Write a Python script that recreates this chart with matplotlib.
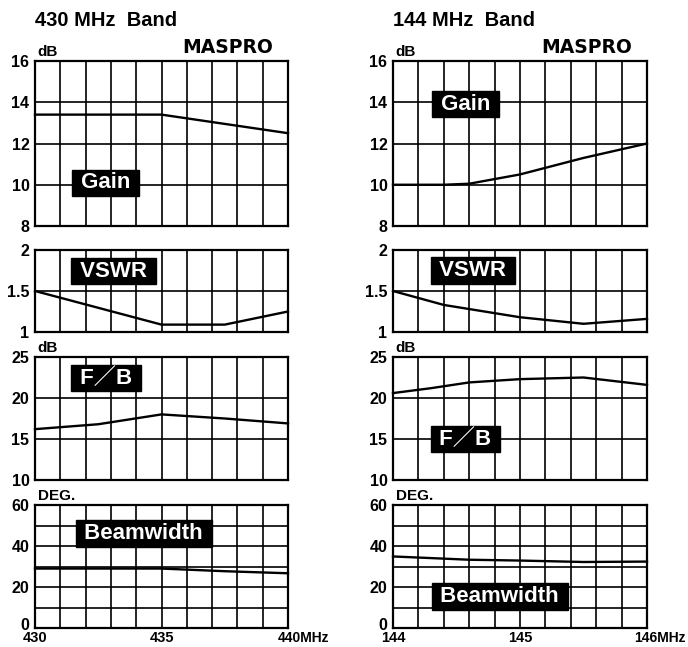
import matplotlib
matplotlib.use("Agg")
import matplotlib.pyplot as plt
import matplotlib.transforms as mtransforms
import numpy as np

# ---------------- data ----------------
# 430 MHz band
gain430_f = [430, 435, 440]
gain430 = [13.4, 13.4, 12.5]
vswr430_f = [430, 435, 437.5, 440]
vswr430 = [1.5, 1.09, 1.09, 1.25]
fb430_f = [430, 432.5, 435, 437.5, 440]
fb430 = [16.2, 16.8, 18.0, 17.5, 16.9]
bw430_f = [430, 435, 437.5, 440]
bw430 = [29.0, 29.0, 27.7, 26.7]

# 144 MHz band
gain144_f = [144, 144.4, 144.6, 145, 145.5, 146]
gain144 = [10.0, 10.0, 10.05, 10.5, 11.3, 12.0]
vswr144_f = [144, 144.4, 145, 145.5, 146]
vswr144 = [1.5, 1.33, 1.18, 1.1, 1.16]
fb144_f = [144, 144.3, 144.6, 145, 145.5, 146]
fb144 = [20.6, 21.2, 21.9, 22.3, 22.5, 21.6]
bw144_f = [144, 144.6, 145, 145.5, 146]
bw144 = [34.9, 33.3, 32.9, 32.2, 32.4]

titles = ["430 MHz  Band", "144 MHz  Band"]
xticks_430 = [430, 435, 440]
xticklabels_430 = ["430", "435", "440MHz"]
xticks_144 = [144, 145, 146]
xticklabels_144 = ["144", "145", "146MHz"]

panel_names = [" Gain ", " VSWR ", " F\uff0fB ", " Beamwidth "]
ylims = [(8, 16), (1, 2), (10, 25), (0, 60)]
ytick_vals = [[8, 10, 12, 14, 16], [1, 1.5, 2], [10, 15, 20, 25], [0, 20, 40, 60]]
ytick_labels = [["8", "10", "12", "14", "16"], ["1", "1.5", "2"],
                ["10", "15", "20", "25"], ["0", "20", "40", "60"]]
hgrid = [[10, 12, 14], [1.5], [15, 20], [10, 20, 30, 40, 50]]
units = ["dB", "", "dB", "DEG."]

# label box centers (data coordinates) for each column
box_430 = [(432.8, 10.1), (433.1, 1.74), (432.8, 22.4), (434.3, 46.1)]
box_144 = [(144.57, 13.9), (144.63, 1.75), (144.57, 15.0), (144.84, 15.4)]

# ---------------- figure ----------------
W, H = 688, 647
fig = plt.figure(figsize=(W / 100, H / 100), dpi=100)
fig.patch.set_facecolor("white")

TICKFONT = ["Liberation Sans Narrow", "Liberation Sans", "DejaVu Sans"]
BOXFONT = ["Liberation Sans", "Noto Sans CJK JP", "DejaVu Sans"]

col_left_px = [35, 393]
col_width_px = [253, 254]
rows_px = [(61, 226), (250, 332), (357, 480), (505, 628)]

series = [
    [(gain430_f, gain430), (vswr430_f, vswr430), (fb430_f, fb430), (bw430_f, bw430)],
    [(gain144_f, gain144), (vswr144_f, vswr144), (fb144_f, fb144), (bw144_f, bw144)],
]
xranges = [(430, 440), (144, 146)]
vgrids = [np.arange(431, 440, 1), np.arange(144.2, 145.9, 0.2)]
boxes = [box_430, box_144]
xt = [(xticks_430, xticklabels_430), (xticks_144, xticklabels_144)]
mhz_offset = [-10, -13]

for c in range(2):
    for r in range(4):
        top, bot = rows_px[r]
        ax = fig.add_axes([col_left_px[c] / W, (H - bot) / H,
                           col_width_px[c] / W, (bot - top) / H])
        ax.set_xlim(*xranges[c])
        ax.set_ylim(*ylims[r])
        for v in vgrids[c]:
            ax.axvline(v, color="black", lw=1.2, zorder=1)
        for h in hgrid[r]:
            ax.axhline(h, color="black", lw=1.2, zorder=1)
        xs, ys = series[c][r]
        ax.plot(xs, ys, color="black", lw=1.7, zorder=3, clip_on=False,
                solid_joinstyle="round")
        for s in ax.spines.values():
            s.set_linewidth(1.6)
            s.set_color("black")
        ax.set_yticks(ytick_vals[r])
        ax.set_yticklabels(ytick_labels[r], family=TICKFONT,
                           fontweight="bold", fontsize=11.5)
        ax.tick_params(axis="y", length=0, pad=4)
        if r == 3:
            # lift the "0" label slightly so it clears the frequency labels
            lbl0 = ax.get_yticklabels()[0]
            lbl0.set_transform(lbl0.get_transform() + mtransforms.ScaledTranslation(
                0, 4 / 100, fig.dpi_scale_trans))
            ticks, labels = xt[c]
            ax.set_xticks(ticks[:2])
            ax.set_xticklabels(labels[:2], family=TICKFONT,
                               fontweight="bold", fontsize=10.5)
            ax.tick_params(axis="x", length=0, pad=2.5)
            off = mtransforms.offset_copy(
                ax.get_xaxis_transform(), fig=fig, x=mhz_offset[c], y=-3,
                units="dots")
            ax.text(ticks[2], 0, labels[2], transform=off, ha="left", va="top",
                    family=TICKFONT, fontweight="bold", fontsize=10)
        else:
            ax.set_xticks([])
        # unit label
        if units[r]:
            ax.text(0.01, 1.0 + 2 / (bot - top), units[r], transform=ax.transAxes,
                    ha="left", va="bottom", family=BOXFONT, fontweight="bold",
                    fontsize=11)
        # panel label box
        bx, by = boxes[c][r]
        ax.text(bx, by, panel_names[r], ha="center", va="center",
                family=BOXFONT, fontweight="bold", fontsize=16, color="white",
                zorder=5,
                bbox=dict(boxstyle="square,pad=0.12", facecolor="black",
                          edgecolor="black"))
        if r == 0:
            ax.text(0.0, 1.0 + 41 / (bot - top), titles[c], transform=ax.transAxes,
                    ha="left", va="center", family=BOXFONT, fontweight="bold",
                    fontsize=14.5)
            ax.text(0.94, 1.0 + 14 / (bot - top), "MASPRO", transform=ax.transAxes,
                    ha="right", va="center", family=["DejaVu Sans"],
                    fontweight="heavy", fontsize=13.5)

fig.savefig("out.png", dpi=100, facecolor="white")
